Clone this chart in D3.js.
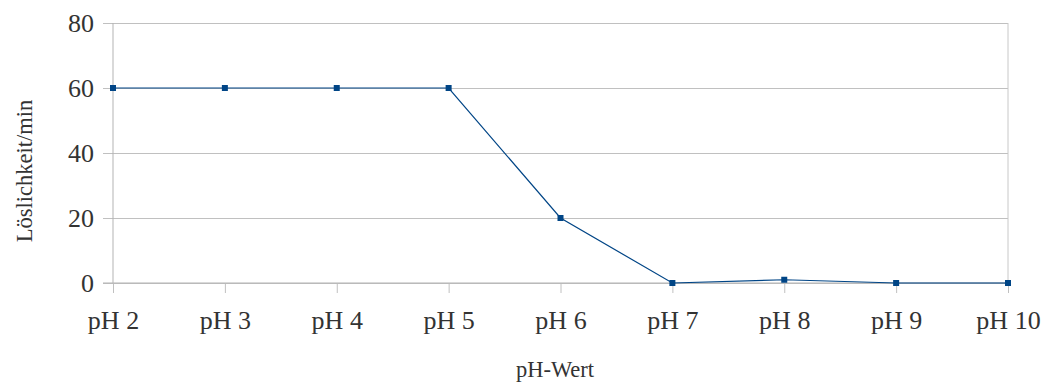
<!DOCTYPE html>
<html>
<head>
<meta charset="utf-8">
<script src="https://cdn.jsdelivr.net/npm/d3@7"></script>
<style>
  html, body { margin: 0; padding: 0; background: #fff; }
  svg { display: block; }
  text { font-family: "Liberation Serif", "Times New Roman", serif; fill: #333; }
</style>
</head>
<body>
<svg id="chart" width="1048" height="383"></svg>
<script>
// Solubility by pH value
const categories = ["pH 2", "pH 3", "pH 4", "pH 5", "pH 6", "pH 7", "pH 8", "pH 9", "pH 10"];
const solubility = [60, 60, 60, 60, 20, 0, 1, 0, 0];
const yTicks = [0, 20, 40, 60, 80];

const svg = d3.select("#chart");
const margin = { left: 113, right: 40, top: 23, bottom: 100 };
const W = 1048, H = 383;
const plotW = W - margin.left - margin.right;
const plotH = H - margin.top - margin.bottom;

const x = d3.scalePoint().domain(categories).range([0, plotW]);
const y = d3.scaleLinear().domain([0, 80]).range([plotH, 0]);

const g = svg.append("g").attr("transform", `translate(${margin.left},${margin.top})`);

// horizontal gridlines with small outward ticks
const yAxis = d3.axisLeft(y).tickValues(yTicks).tickSize(-plotW).tickPadding(19).tickSizeOuter(0);
const gy = g.append("g").call(yAxis);
gy.select(".domain").remove();
gy.selectAll(".tick line").attr("stroke", "#c0c0c0").attr("x1", -10);
gy.selectAll(".tick text").style("font-size", "26px").attr("fill", "#333");

// category axis
const xAxis = d3.axisBottom(x).tickSize(10).tickPadding(18).tickSizeOuter(0);
const gx = g.append("g").attr("transform", `translate(0,${plotH})`).call(xAxis);
gx.select(".domain").remove();
gx.selectAll(".tick line").attr("stroke", "#c0c0c0");
gx.selectAll(".tick text").style("font-size", "26px").attr("fill", "#333");

// left and right frame lines
g.append("line").attr("x1", 0).attr("x2", 0).attr("y1", 0).attr("y2", plotH).attr("stroke", "#b3b3b3");
g.append("line").attr("x1", plotW).attr("x2", plotW).attr("y1", 0).attr("y2", plotH).attr("stroke", "#c8c8c8");
g.append("line").attr("x1", -10).attr("x2", plotW).attr("y1", plotH).attr("y2", plotH).attr("stroke", "#b3b3b3");

// data line
const line = d3.line().x((d, i) => x(categories[i])).y(d => y(d));
g.append("path").datum(solubility)
  .attr("d", line)
  .attr("fill", "none")
  .attr("stroke", "#004586")
  .attr("stroke-width", 1.2);

g.selectAll("rect.marker").data(solubility).enter().append("rect")
  .attr("class", "marker")
  .attr("x", (d, i) => x(categories[i]) - 3)
  .attr("y", d => y(d) - 3)
  .attr("width", 6).attr("height", 6)
  .attr("fill", "#004586");

// axis titles
svg.append("text")
  .attr("x", 555).attr("y", 377)
  .attr("text-anchor", "middle")
  .style("font-size", "22.5px")
  .text("pH-Wert");

svg.append("text")
  .attr("transform", "translate(32,171) rotate(-90)")
  .attr("text-anchor", "middle")
  .style("font-size", "22.5px")
  .text("Löslichkeit/min");
</script>
</body>
</html>
